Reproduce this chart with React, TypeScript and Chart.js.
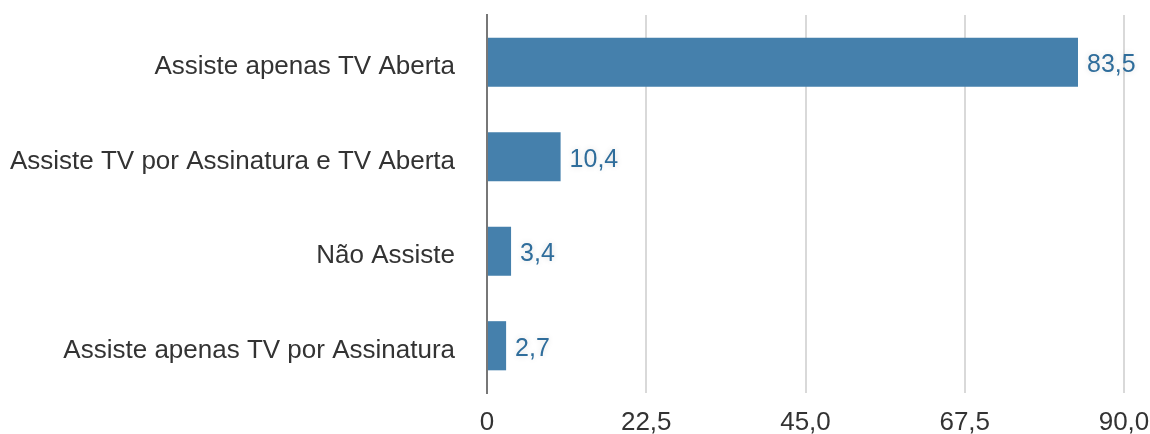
import React, { useEffect, useRef } from "react";
import { Chart, registerables } from "chart.js";

Chart.register(...registerables);

const categories = [
  "Assiste apenas TV Aberta",
  "Assiste TV por Assinatura e TV Aberta",
  "Não Assiste",
  "Assiste apenas TV por Assinatura",
];
const values = [83.5, 10.4, 3.4, 2.7];
const tickValues = [0, 22.5, 45, 67.5, 90];

const FONT = '"Helvetica Neue", Helvetica, "Liberation Sans", Arial, sans-serif';
const BAR_COLOR = "#4580ac";
const LABEL_COLOR = "#2f6d9b";

const fmt = (v: number) => (v === 0 ? "0" : v.toFixed(1).replace(".", ","));

// Writes each bar's value just past its right end.
const valueLabels = {
  id: "valueLabels",
  afterDatasetsDraw(chart: any) {
    const { ctx } = chart;
    const meta = chart.getDatasetMeta(0);
    ctx.save();
    ctx.font = `25px ${FONT}`;
    ctx.fillStyle = LABEL_COLOR;
    ctx.textAlign = "left";
    ctx.textBaseline = "middle";
    ctx.shadowColor = "rgba(0,0,0,0.14)";
    ctx.shadowBlur = 6;
    meta.data.forEach((bar: any, i: number) => {
      ctx.fillText(fmt(values[i]), bar.x + 9, bar.y + 3);
    });
    ctx.restore();
  },
};

export default function App() {
  const ref = useRef<HTMLCanvasElement>(null);

  useEffect(() => {
    if (!ref.current) return;
    const chart = new Chart(ref.current, {
      type: "bar",
      data: {
        labels: categories,
        datasets: [
          {
            data: values,
            backgroundColor: BAR_COLOR,
            borderWidth: 0,
            barPercentage: 0.52,
            categoryPercentage: 1,
          },
        ],
      },
      options: {
        indexAxis: "y",
        responsive: false,
        animation: false,
        layout: { padding: { top: 15, right: 26, bottom: 0, left: 0 } },
        plugins: {
          legend: { display: false },
          tooltip: { enabled: false },
        },
        scales: {
          x: {
            min: 0,
            max: 90,
            afterBuildTicks(scale: any) {
              scale.ticks = tickValues.map((v) => ({ value: v }));
            },
            afterFit(scale: any) {
              scale.height = 41;
              scale.paddingLeft = 0;
              scale.paddingRight = 0;
            },
            grid: {
              color: "#d9d9d9",
              lineWidth: 2,
              drawTicks: false,
            },
            border: { display: false },
            ticks: {
              padding: 14,
              color: "#333333",
              font: { family: FONT, size: 26 },
              maxRotation: 0,
              autoSkip: false,
              callback: (v: any) => fmt(Number(v)),
            },
          },
          y: {
            grid: { display: false, drawTicks: false },
            border: { display: true, color: "#777777", width: 2 },
            afterFit(scale: any) {
              scale.width = 487;
              scale.paddingTop = 0;
              scale.paddingBottom = 0;
            },
            ticks: {
              padding: 32,
              labelOffset: 5,
              color: "#333333",
              font: { family: FONT, size: 26 },
            },
          },
        },
      },
      plugins: [valueLabels],
    });
    return () => chart.destroy();
  }, []);

  return (
    <div style={{ position: "fixed", left: 0, top: 0, width: 1150, height: 434, background: "#fff" }}>
      <canvas ref={ref} width={1150} height={434} style={{ width: 1150, height: 434 }} />
    </div>
  );
}
